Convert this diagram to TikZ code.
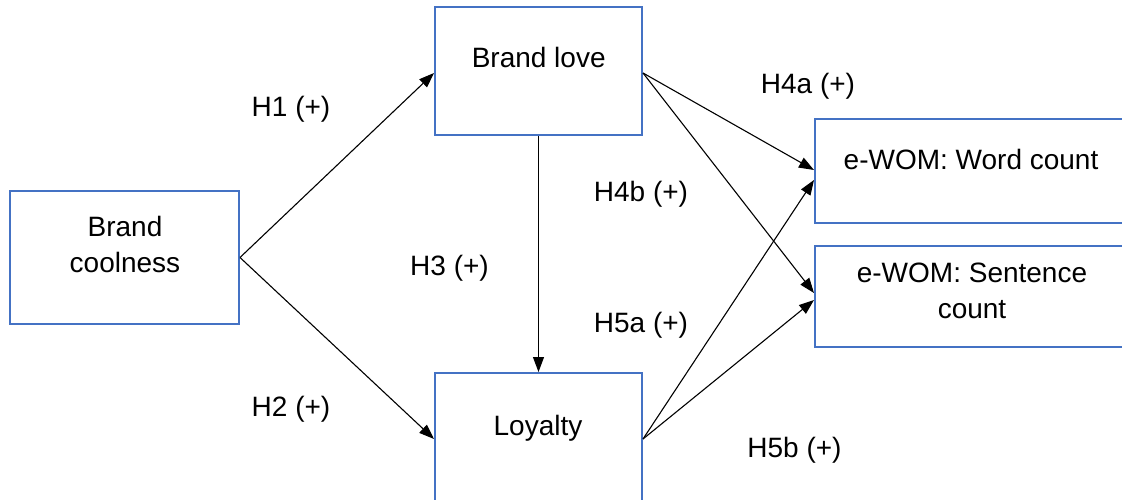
\documentclass[tikz,border=0pt]{standalone}
\usepackage{fontspec}
\setmainfont{Liberation Sans}
\usetikzlibrary{arrows.meta}
\definecolor{boxblue}{HTML}{4472C4}
\tikzset{
  box/.style={draw=boxblue, line width=2pt, rectangle, inner sep=0pt, fill=white},
  lbl/.style={anchor=base, inner sep=0pt, font=\fontsize{28}{36}\selectfont, text=black},
  conn/.style={draw=black, line width=1.1pt, -{Triangle[length=15pt,width=11pt]}}
}
\begin{document}
\begin{tikzpicture}[x=1pt,y=-1pt]
\useasboundingbox (0,0) rectangle (1122,500);
\clip (0,0) rectangle (1122,500);
\fill[white] (0,0) rectangle (1122,500);
% boxes
\node[box, minimum width=229pt, minimum height=133pt] (cool) at (124.5,257.5) {};
\node[box, minimum width=207pt, minimum height=128pt] (love) at (538.5,71) {};
\node[box, minimum width=207pt, minimum height=132pt] (loyal) at (538.5,439) {};
\node[box, minimum width=315pt, minimum height=104pt] (word) at (972.5,171) {};
\node[box, minimum width=315pt, minimum height=101pt] (sent) at (972.5,296.5) {};
% box texts
\node[lbl, align=center] (tcool) at (125,272) {Brand\\coolness};
\node[lbl] (tlove) at (538.7,68) {Brand love};
\node[lbl] (tloyal) at (538,435) {Loyalty};
\node[lbl] (tword) at (971,170) {e-WOM: Word count};
\node[lbl, align=center] (tsent) at (972,318) {e-WOM: Sentence\\count};
% connectors
\draw[conn] (cool.east) -- ([yshift=-2pt]love.west);
\draw[conn] (cool.east) -- (loyal.west);
\draw[conn] (love.south) -- (loyal.north);
\draw[conn] ([yshift=-2pt]love.east) -- ([yshift=1pt]word.west);
\draw[conn] ([yshift=-2pt]love.east) -- ([yshift=3.5pt]sent.west);
\draw[conn] (loyal.east) -- ([yshift=-9pt]word.west);
\draw[conn] (loyal.east) -- ([yshift=-3.5pt]sent.west);
% hypothesis labels
\node[lbl] (h1) at (291,117) {H1 (+)};
\node[lbl] (h2) at (291,416) {H2 (+)};
\node[lbl] (h3) at (449.5,275) {H3 (+)};
\node[lbl] (h4a) at (808,94) {H4a (+)};
\node[lbl] (h4b) at (641,201) {H4b (+)};
\node[lbl] (h5a) at (641,332) {H5a (+)};
\node[lbl] (h5b) at (794.5,457) {H5b (+)};
\end{tikzpicture}
\end{document}
